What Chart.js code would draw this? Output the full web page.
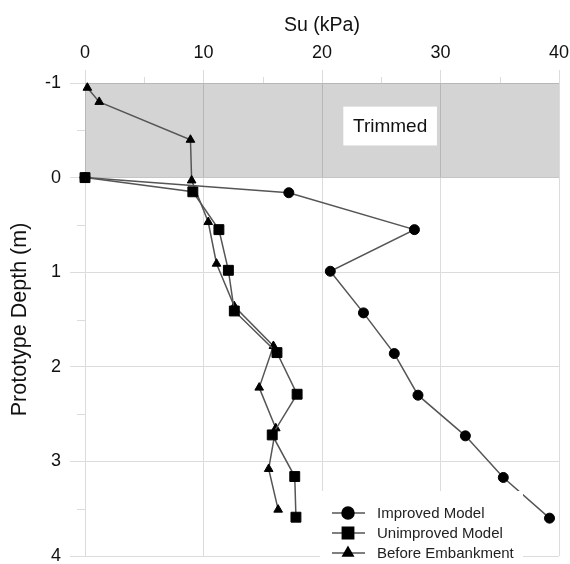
<!DOCTYPE html>
<html lang="en">

<head>
    <title>Su vs Prototype Depth</title>
    <script src="https://cdn.jsdelivr.net/npm/chart.js"></script>
    <style>
        body { margin: 0; background: #fff; }
    </style>
</head>

<body>
    <canvas id="chart" width="570" height="564"></canvas>

    <script>
        // Data
        const improvedSu = [0, 17.2, 27.8, 20.7, 23.5, 26.1, 28.1, 32.1, 35.3, 39.2];
        const improvedDepth = [0, 0.16, 0.55, 0.99, 1.43, 1.86, 2.30, 2.73, 3.17, 3.60];
        const unimprovedSu = [0, 9.1, 11.3, 12.1, 12.6, 16.2, 17.9, 15.8, 17.7, 17.8];
        const unimprovedDepth = [0, 0.15, 0.55, 0.98, 1.41, 1.85, 2.29, 2.72, 3.16, 3.59];
        const beforeSu = [0.2, 1.2, 8.9, 9.0, 10.4, 11.1, 12.6, 15.9, 14.7, 16.1, 15.5, 16.3];
        const beforeDepth = [-0.95, -0.80, -0.40, 0.03, 0.47, 0.91, 1.36, 1.78, 2.22, 2.65, 3.08, 3.51];

        const seriesNames = ['Improved Model', 'Unimproved Model', 'Before Embankment'];
        const trimmedLabel = 'Trimmed';

        const FONT = '"Liberation Sans", Arial, sans-serif';
        const gridColor = '#dcdcdc';

        function toPoints(xs, ys) {
            return xs.map((x, i) => ({ x: x, y: ys[i] }));
        }

        function series(label, xs, ys, style, radius) {
            return {
                label: label,
                data: toPoints(xs, ys),
                showLine: true,
                borderColor: '#555',
                borderWidth: 1.5,
                pointStyle: style,
                pointRadius: radius,
                pointBackgroundColor: '#000',
                pointBorderColor: '#000',
                pointBorderWidth: 1,
                clip: false
            };
        }

        // grey "trimmed" band, minor ticks, label box, legend
        const decorations = {
            id: 'decorations',
            beforeDatasetsDraw(chart) {
                const { ctx, chartArea: a, scales: { x, y } } = chart;
                ctx.save();
                ctx.fillStyle = 'rgba(0,0,0,0.17)';
                ctx.fillRect(a.left, y.getPixelForValue(-1), a.right - a.left,
                    y.getPixelForValue(0) - y.getPixelForValue(-1));

                // Trimmed label box
                const bx = x.getPixelForValue(21.8), by = y.getPixelForValue(-0.75);
                const bw = x.getPixelForValue(29.7) - bx, bh = y.getPixelForValue(-0.34) - by;
                ctx.fillStyle = '#fff';
                ctx.fillRect(bx, by, bw, bh);
                ctx.fillStyle = '#111';
                ctx.font = '19px ' + FONT;
                ctx.textAlign = 'center';
                ctx.textBaseline = 'middle';
                ctx.fillText(trimmedLabel, bx + bw / 2, by + bh / 2 + 1);

                // minor ticks
                ctx.strokeStyle = gridColor;
                ctx.lineWidth = 1;
                ctx.beginPath();
                for (let v = -0.5; v < 4; v += 1) {
                    const py = Math.round(y.getPixelForValue(v)) + 0.5;
                    ctx.moveTo(a.left - 8, py);
                    ctx.lineTo(a.left, py);
                }
                for (let v = 5; v < 40; v += 10) {
                    const px = Math.round(x.getPixelForValue(v)) + 0.5;
                    ctx.moveTo(px, a.top - 6);
                    ctx.lineTo(px, a.top);
                }
                ctx.stroke();
                ctx.restore();
            },
            afterDatasetsDraw(chart) {
                const { ctx } = chart;
                const styles = ['circle', 'rect', 'triangle'];
                const radii = [6, 8, 6];
                ctx.save();
                ctx.fillStyle = '#fff';
                ctx.fillRect(320, 491, 203, 73);
                ctx.font = '15px ' + FONT;
                ctx.textBaseline = 'middle';
                ctx.textAlign = 'left';
                seriesNames.forEach((name, i) => {
                    const yy = 513 + i * 20;
                    ctx.strokeStyle = '#555';
                    ctx.lineWidth = 1.5;
                    ctx.beginPath();
                    ctx.moveTo(332, yy);
                    ctx.lineTo(365, yy);
                    ctx.stroke();
                    ctx.fillStyle = '#000';
                    ctx.strokeStyle = '#000';
                    Chart.helpers.drawPoint(ctx, { pointStyle: styles[i], radius: radii[i], borderWidth: 1 }, 348, yy);
                    ctx.fillStyle = '#222';
                    ctx.fillText(name, 377, yy + 1);
                });
                ctx.restore();
            }
        };

        const ctx = document.getElementById('chart').getContext('2d');

        const chart = new Chart(ctx, {
            type: 'scatter',
            data: {
                datasets: [
                    series(seriesNames[0], improvedSu, improvedDepth, 'circle', 5),
                    series(seriesNames[1], unimprovedSu, unimprovedDepth, 'rect', 7),
                    series(seriesNames[2], beforeSu, beforeDepth, 'triangle', 5)
                ]
            },
            options: {
                responsive: false,
                animation: false,
                layout: { padding: { top: 0, left: 0, right: 11, bottom: 8 } },
                plugins: {
                    legend: { display: false },
                    tooltip: { enabled: false }
                },
                scales: {
                    x: {
                        type: 'linear',
                        position: 'top',
                        min: 0,
                        max: 40,
                        ticks: {
                            stepSize: 10,
                            color: '#111',
                            font: { family: FONT, size: 18 },
                            padding: 6
                        },
                        grid: { color: gridColor, tickLength: 13, tickColor: gridColor },
                        border: { color: gridColor },
                        title: {
                            display: true,
                            text: 'Su (kPa)',
                            color: '#111',
                            font: { family: FONT, size: 19.5 },
                            padding: { top: 14, bottom: 0 }
                        },
                        afterFit(scale) {
                            scale.height = 83;
                            scale.paddingLeft = 0;
                            scale.paddingRight = 0;
                        }
                    },
                    y: {
                        type: 'linear',
                        reverse: true,
                        min: -1,
                        max: 4,
                        ticks: {
                            stepSize: 1,
                            color: '#111',
                            font: { family: FONT, size: 18 },
                            padding: 9
                        },
                        grid: { color: gridColor, tickLength: 15, tickColor: gridColor },
                        border: { color: gridColor },
                        title: {
                            display: true,
                            text: 'Prototype Depth (m)',
                            color: '#111',
                            font: { family: FONT, size: 21.5 },
                            padding: { top: 7, bottom: 0 }
                        },
                        afterFit(scale) {
                            scale.width = 85;
                            scale.paddingTop = 0;
                            scale.paddingBottom = 0;
                        }
                    }
                }
            },
            plugins: [decorations]
        });
    </script>
</body>

</html>
